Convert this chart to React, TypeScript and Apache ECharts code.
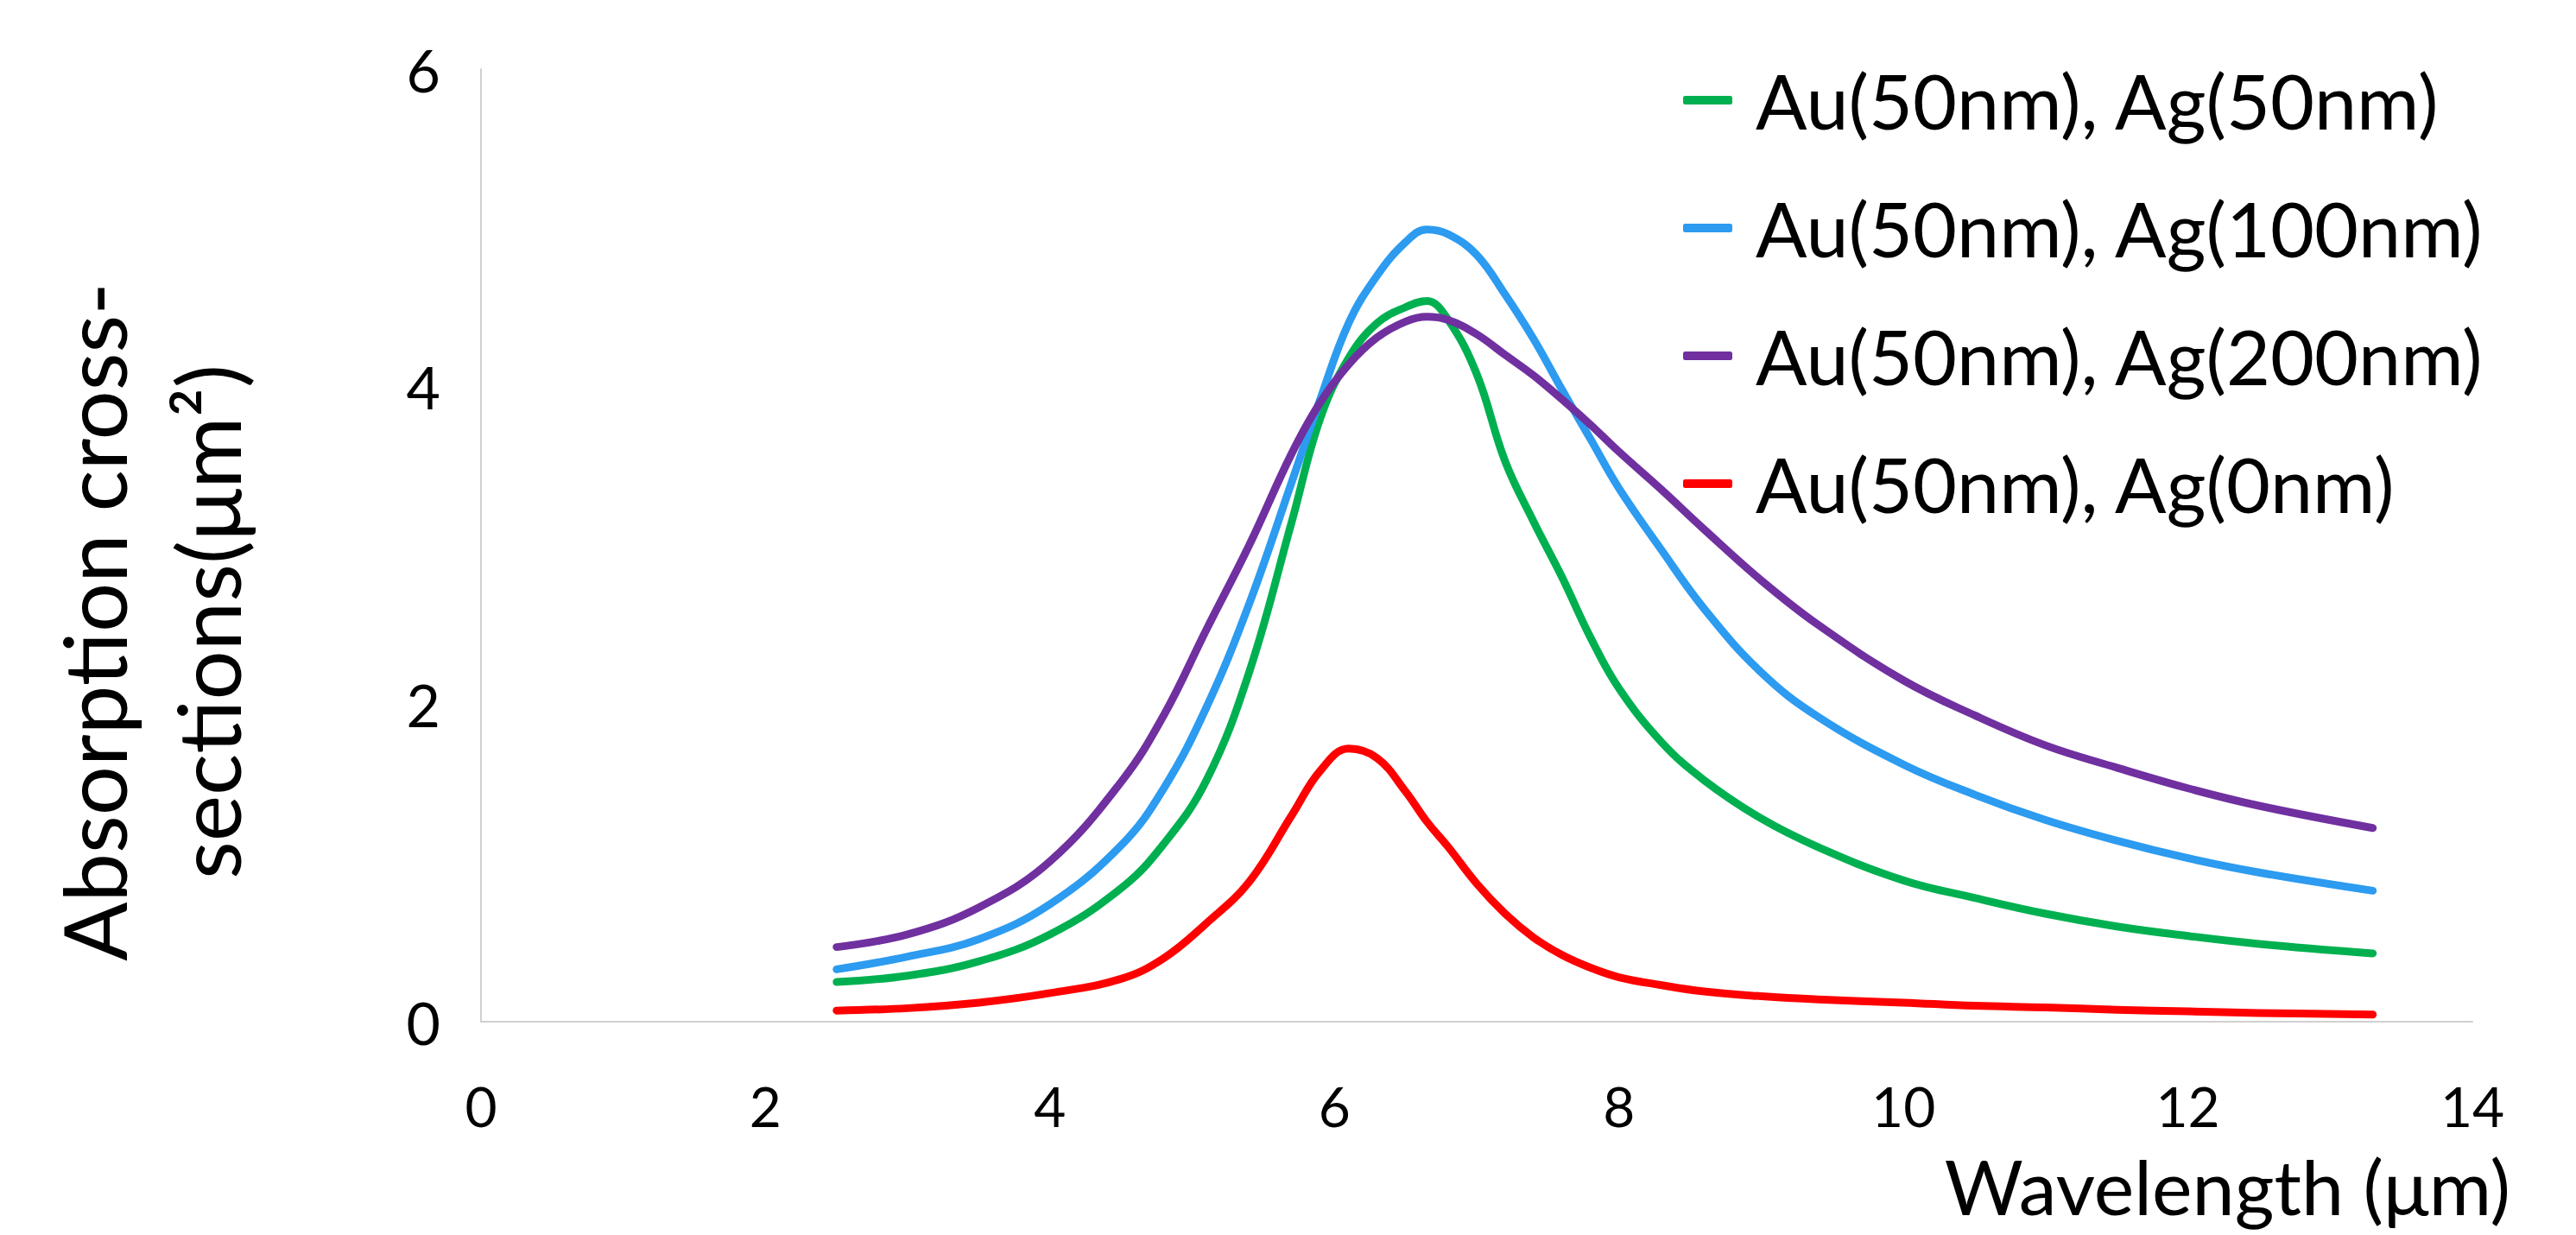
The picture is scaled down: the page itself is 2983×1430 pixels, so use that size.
import React, { useEffect, useRef } from "react";
import * as echarts from "echarts";

const wavelength = [2.5, 3.0, 3.5, 4.0, 4.5, 4.8, 5.1, 5.4, 5.7, 5.9, 6.1, 6.3, 6.5, 6.65, 6.8, 7.0, 7.2, 7.4, 7.6, 7.8, 8.0, 8.3, 8.6, 9.0, 9.4, 10.0, 10.5, 11.0, 11.5, 12.0, 12.5, 13.3];

const ag50 = [0.25, 0.29, 0.38, 0.55, 0.84, 1.12, 1.52, 2.2, 3.15, 3.8, 4.18, 4.4, 4.5, 4.54, 4.42, 4.08, 3.53, 3.15, 2.8, 2.42, 2.1, 1.76, 1.52, 1.28, 1.1, 0.89, 0.78, 0.68, 0.6, 0.54, 0.49, 0.43];
const ag100 = [0.33, 0.41, 0.52, 0.74, 1.11, 1.47, 1.98, 2.63, 3.4, 3.92, 4.4, 4.7, 4.91, 4.99, 4.96, 4.83, 4.58, 4.3, 3.98, 3.67, 3.36, 2.97, 2.6, 2.2, 1.92, 1.62, 1.43, 1.27, 1.14, 1.03, 0.94, 0.825];
const ag200 = [0.47, 0.55, 0.72, 1.01, 1.51, 1.93, 2.47, 3.0, 3.58, 3.9, 4.14, 4.31, 4.41, 4.44, 4.42, 4.33, 4.2, 4.07, 3.92, 3.76, 3.59, 3.35, 3.1, 2.78, 2.5, 2.15, 1.93, 1.74, 1.6, 1.47, 1.36, 1.22];
const ag0 = [0.07, 0.085, 0.12, 0.18, 0.27, 0.4, 0.62, 0.88, 1.3, 1.58, 1.72, 1.66, 1.45, 1.26, 1.1, 0.87, 0.68, 0.53, 0.42, 0.34, 0.28, 0.23, 0.19, 0.16, 0.14, 0.12, 0.1, 0.09, 0.075, 0.065, 0.055, 0.045];

const seriesNames = ["Au(50nm), Ag(50nm)", "Au(50nm), Ag(100nm)", "Au(50nm), Ag(200nm)", "Au(50nm), Ag(0nm)"];
const seriesColors = ["#00B050", "#2C9BF0", "#7030A0", "#FF0000"];
const seriesValues = [ag50, ag100, ag200, ag0];

const xTitle = "Wavelength (μm)";
const yTitleLine1 = "Absorption cross-";
const yTitleLine2 = "sections(μm²)";

const FONT = "Lato, 'Open Sans', sans-serif";

export default function App() {
  const ref = useRef<HTMLDivElement>(null);
  useEffect(() => {
    if (!ref.current) return;
    const chart = echarts.init(ref.current, null, { renderer: "svg" });
    chart.setOption({
      animation: false,
      backgroundColor: "#ffffff",
      textStyle: { fontFamily: FONT },
      grid: { left: 557, right: 2983 - 2863, top: 80, bottom: 1430 - 1183, containLabel: false },
      legend: {
        orient: "vertical",
        left: 1944,
        top: 61,
        itemWidth: 57,
        itemHeight: 10,
        itemGap: 48,
        icon: "roundRect",
        data: seriesNames,
        textStyle: { fontFamily: FONT, fontSize: 88, color: "#000", lineHeight: 100, padding: [0, 0, 0, 22] },
      },
      xAxis: {
        type: "value",
        min: 0,
        max: 14,
        interval: 2,
        axisLine: { show: true, lineStyle: { color: "#D0D0D0", width: 2 } },
        axisTick: { show: false },
        splitLine: { show: false },
        axisLabel: { fontFamily: FONT, fontSize: 64, lineHeight: 50, color: "#000", margin: 72 },
      },
      yAxis: {
        type: "value",
        min: 0,
        max: 6,
        interval: 2,
        axisLine: { show: true, lineStyle: { color: "#D0D0D0", width: 2 } },
        axisTick: { show: false },
        splitLine: { show: false },
        axisLabel: { fontFamily: FONT, fontSize: 68, color: "#000", margin: 47 },
      },
      graphic: [
        {
          type: "text",
          x: 2907,
          y: 1373,
          style: { text: xTitle, font: `88px ${FONT}`, fill: "#000", align: "right", verticalAlign: "middle" },
        },
        {
          type: "text",
          x: 108,
          y: 720,
          rotation: Math.PI / 2,
          style: { text: yTitleLine1, font: `101px ${FONT}`, fill: "#000", align: "center", verticalAlign: "middle" },
        },
        {
          type: "text",
          x: 240,
          y: 720,
          rotation: Math.PI / 2,
          style: { text: yTitleLine2, font: `101px ${FONT}`, fill: "#000", align: "center", verticalAlign: "middle" },
        },
      ],
      series: seriesNames.map((name, i) => ({
        name,
        type: "line",
        smooth: 0.4,
        showSymbol: false,
        symbol: "none",
        color: seriesColors[i],
        lineStyle: { width: 9, color: seriesColors[i], cap: "round", join: "round" },
        data: wavelength.map((w, j) => [w, seriesValues[i][j]]),
      })),
    });
    return () => chart.dispose();
  }, []);
  return <div ref={ref} style={{ position: "absolute", left: 0, top: 0, width: 2983, height: 1430 }} />;
}
